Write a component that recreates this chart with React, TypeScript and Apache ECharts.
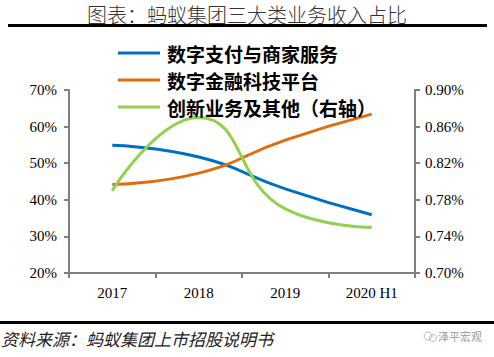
import React, { useEffect, useRef } from "react";
import * as echarts from "echarts";

const categories = ["2017", "2018", "2019", "2020 H1"];
const paymentShare = [54.9, 51.7, 43.0, 35.9];
const fintechShare = [44.2, 47.3, 56.3, 63.4];
const innovationShare = [0.79, 0.87, 0.77, 0.75];
const leftTicks = [20, 30, 40, 50, 60, 70];
const rightTicks = [0.7, 0.74, 0.78, 0.82, 0.86, 0.9];
const seriesNames = ["数字支付与商家服务", "数字金融科技平台", "创新业务及其他（右轴）"];

const AXIS_FONT = "'Liberation Serif', 'DejaVu Serif', serif";
const CJK_FONT = "'Noto Sans CJK SC', sans-serif";

export default function App() {
  const ref = useRef<HTMLDivElement>(null);
  useEffect(() => {
    if (!ref.current) return;
    const chart = echarts.init(ref.current, undefined, { renderer: "svg" });
    const axisLine = { show: true, lineStyle: { color: "#7f7f7f", width: 2 } };
    const axisTick = { show: true, length: 5, lineStyle: { color: "#7f7f7f", width: 2 } };
    chart.setOption({
      animation: false,
      backgroundColor: "#ffffff",
      title: {
        text: "图表：蚂蚁集团三大类业务收入占比",
        left: "center",
        top: -1,
        textStyle: { fontFamily: CJK_FONT, fontSize: 20, fontWeight: 300, color: "#333" },
      },
      legend: {
        orient: "vertical",
        left: 118,
        top: 43,
        padding: 0,
        itemWidth: 42,
        itemHeight: 3,
        itemGap: 7,
        icon: "rect",
        data: seriesNames,
        textStyle: {
          fontFamily: CJK_FONT,
          fontSize: 19,
          lineHeight: 20,
          fontWeight: "bold",
          color: "#000",
          padding: [0, 0, 0, 2],
        },
      },
      grid: { left: 69, right: 79, top: 90, bottom: 84, containLabel: false },
      xAxis: {
        type: "category",
        data: categories,
        boundaryGap: true,
        axisLine,
        axisTick: { ...axisTick, alignWithLabel: false },
        axisLabel: { fontFamily: AXIS_FONT, fontSize: 15, color: "#000", margin: 12 },
        splitLine: { show: false },
      },
      yAxis: [
        {
          type: "value",
          min: leftTicks[0],
          max: leftTicks[leftTicks.length - 1],
          interval: 10,
          axisLine,
          axisTick,
          splitLine: { show: false },
          axisLabel: {
            fontFamily: AXIS_FONT,
            fontSize: 15,
            color: "#000",
            margin: 12,
            formatter: (v: number) => `${v}%`,
          },
        },
        {
          type: "value",
          min: rightTicks[0],
          max: rightTicks[rightTicks.length - 1],
          position: "right",
          axisLine,
          axisTick: { ...axisTick, customValues: rightTicks },
          splitLine: { show: false },
          axisLabel: {
            fontFamily: AXIS_FONT,
            fontSize: 15,
            color: "#000",
            margin: 10,
            customValues: rightTicks,
            formatter: (v: number) => `${v.toFixed(2)}%`,
          },
        },
      ],
      series: [
        {
          name: seriesNames[0],
          type: "line",
          data: paymentShare,
          smooth: true,
          symbol: "none",
          lineStyle: { color: "#0070C0", width: 3 },
          itemStyle: { color: "#0070C0" },
        },
        {
          name: seriesNames[1],
          type: "line",
          data: fintechShare,
          smooth: true,
          symbol: "none",
          lineStyle: { color: "#E36C0A", width: 3 },
          itemStyle: { color: "#E36C0A" },
        },
        {
          name: seriesNames[2],
          type: "line",
          yAxisIndex: 1,
          data: innovationShare,
          smooth: true,
          symbol: "none",
          lineStyle: { color: "#92D050", width: 3 },
          itemStyle: { color: "#92D050" },
        },
      ],
      graphic: [
        { type: "rect", shape: { x: 8, y: 24, width: 479, height: 3 }, style: { fill: "#000" } },
        { type: "rect", shape: { x: 0, y: 321, width: 494, height: 3 }, style: { fill: "#000" } },
        {
          type: "text",
          x: 1,
          y: 330,
          style: {
            text: "资料来源：蚂蚁集团上市招股说明书",
            fontFamily: CJK_FONT,
            fontSize: 17,
            fontStyle: "italic",
            fill: "#222",
          },
        },
        {
          type: "circle",
          shape: { cx: 428, cy: 336, r: 4 },
          style: { fill: "none", stroke: "#bbb", lineWidth: 1 },
        },
        {
          type: "circle",
          shape: { cx: 433, cy: 338, r: 3.5 },
          style: { fill: "none", stroke: "#bbb", lineWidth: 1 },
        },
        {
          type: "text",
          x: 438,
          y: 330,
          style: { text: "泽平宏观", fontFamily: CJK_FONT, fontSize: 11, fill: "#999" },
        },
      ],
    });
    return () => chart.dispose();
  }, []);
  return <div ref={ref} style={{ width: 494, height: 357, position: "absolute", left: 0, top: 0 }} />;
}
